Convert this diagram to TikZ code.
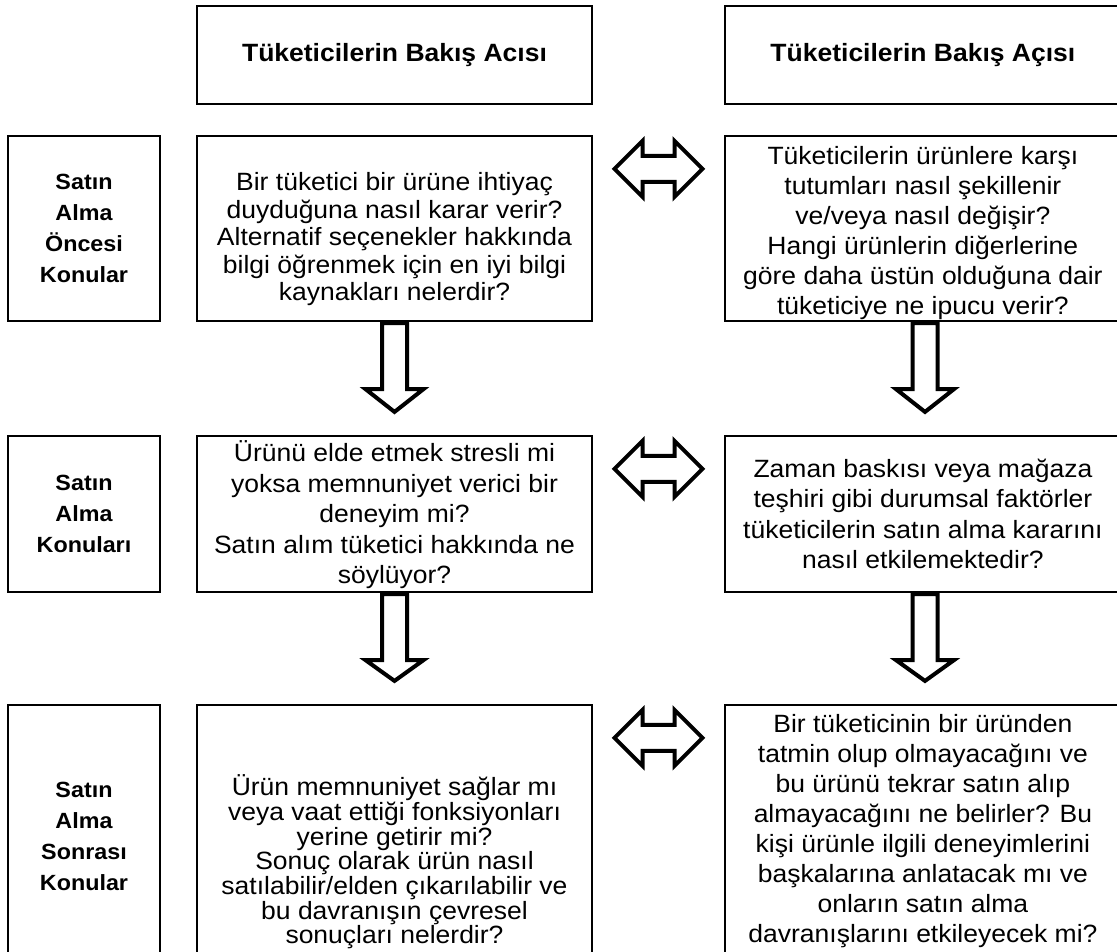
\documentclass[tikz,border=0pt]{standalone}
\usepackage{fontspec}
\setmainfont{Liberation Sans}[FakeStretch=1.06]
\usetikzlibrary{calc}

\tikzset{
  frame/.style={draw=black, line width=2.2pt, inner sep=0pt, fill=none},
  body/.style={align=center, inner sep=0pt, text=black, font=\fontsize{25}{30.5}\selectfont},
  side/.style={align=center, inner sep=0pt, text=black, font=\bfseries\fontsize{22}{31}\selectfont},
  head/.style={align=center, inner sep=0pt, text=black, font=\bfseries\fontsize{25}{30}\selectfont},
  blockarrow/.style={draw=black, line width=4pt, fill=white, line join=miter, miter limit=10},
}

% hollow arrow pointing down from one box to the box below it;
% #3 shifts the arrow sideways from the centre of the boxes
\newcommand\downblock[3]{%
  \draw[blockarrow] ($(#1.south)+(#3-12.5,1)$) -- ++(0,66) -- ++(-16.5,0)
    -- ($(#2.north)+(#3,-23)$) -- ($(#1.south)+(#3+29,67)$) -- ++(-16.5,0)
    -- ($(#1.south)+(#3+12.5,1)$) -- cycle;
}
% hollow two-headed arrow between two boxes of the same row
\newcommand\sideblock[2]{%
  \coordinate (mid#1) at ($(#1.north east)!0.5!(#2.north west)+(0,34)$);
  \draw[blockarrow] ($(mid#1)+(-44,0)$) -- ++(28,-28) -- ++(0,15) -- ++(32,0)
    -- ++(0,-15) -- ($(mid#1)+(44,0)$) -- ++(-28,28) -- ++(0,-15)
    -- ++(-32,0) -- ++(0,15) -- cycle;
}

\begin{document}
\begin{tikzpicture}[x=1pt, y=-1pt]
  \useasboundingbox (0,0) rectangle (1117,951);
  \clip (0,0) rectangle (1117,951);
  \fill[white] (0,0) rectangle (1117,951);

  % column headings (the right column runs past the right edge)
  \node[frame, minimum width=395pt, minimum height=98pt] (hL) at (394.5,55) {};
  \node[frame, minimum width=413pt, minimum height=98pt] (hR) at (931.5,55) {};
  \node[head] (hLt) at (hL.center) {Tüketicilerin Bakış Acısı};
  \node[head] (hRt) at ($(hR.west)+(199,0)$) {Tüketicilerin Bakış Açısı};

  % row 1: before the purchase
  \node[frame, minimum width=152pt, minimum height=185pt] (s1) at (84,228.5) {};
  \node[frame, minimum width=395pt, minimum height=185pt] (b1L) at (394.5,228.5) {};
  \node[frame, minimum width=413pt, minimum height=185pt] (b1R) at (931.5,228.5) {};
  \node[side] (s1t) at (s1.center) {Satın\\Alma\\Öncesi\\Konular};
  \node[body, font=\fontsize{25}{27.5}\selectfont] (t1L) at ($(b1L.center)+(0,11)$)
    {Bir tüketici bir ürüne ihtiyaç\\duyduğuna nasıl karar verir?\\Alternatif seçenekler hakkında\\bilgi öğrenmek için en iyi bilgi\\kaynakları nelerdir?};
  \node[body, font=\fontsize{25}{30}\selectfont] (t1R) at ($(b1R.west)+(199,5)$)
    {Tüketicilerin ürünlere karşı\\tutumları nasıl şekillenir\\ve/veya nasıl değişir?\\Hangi ürünlerin diğerlerine\\göre daha üstün olduğuna dair\\tüketiciye ne ipucu verir?};

  % row 2: the purchase
  \node[frame, minimum width=152pt, minimum height=156pt] (s2) at (84,514) {};
  \node[frame, minimum width=395pt, minimum height=156pt] (b2L) at (394.5,514) {};
  \node[frame, minimum width=413pt, minimum height=156pt] (b2R) at (931.5,514) {};
  \node[side] (s2t) at (s2.center) {Satın\\Alma\\Konuları};
  \node[body] (t2L) at ($(b2L.center)+(0,1)$)
    {Ürünü elde etmek stresli mi\\yoksa memnuniyet verici bir\\deneyim mi?\\Satın alım tüketici hakkında ne\\söylüyor?};
  \node[body] (t2R) at ($(b2R.west)+(199,0)$)
    {Zaman baskısı veya mağaza\\teşhiri gibi durumsal faktörler\\tüketicilerin satın alma kararını\\nasıl etkilemektedir?};

  % row 3: after the purchase (boxes run past the lower edge)
  \node[frame, minimum width=152pt, minimum height=262pt] (s3) at (84,836) {};
  \node[frame, minimum width=395pt, minimum height=262pt] (b3L) at (394.5,836) {};
  \node[frame, minimum width=413pt, minimum height=262pt] (b3R) at (931.5,836) {};
  \node[side] (s3t) at (s3.center) {Satın\\Alma\\Sonrası\\Konular};
  \node[body, font=\fontsize{25}{24.7}\selectfont] (t3L) at ($(b3L.center)+(0,26)$)
    {Ürün memnuniyet sağlar mı\\veya vaat ettiği fonksiyonları\\yerine getirir mi?\\Sonuç olarak ürün nasıl\\satılabilir/elden çıkarılabilir ve\\bu davranışın çevresel\\sonuçları nelerdir?};
  \node[body, font=\fontsize{25}{30}\selectfont] (t3R) at ($(b3R.west)+(199,-5)$)
    {Bir tüketicinin bir üründen\\tatmin olup olmayacağını ve\\bu ürünü tekrar satın alıp\\almayacağını ne belirler? Bu\\kişi ürünle ilgili deneyimlerini\\başkalarına anlatacak mı ve\\onların satın alma\\davranışlarını etkileyecek mi?};

  % arrows between the boxes
  \sideblock{b1L}{b1R}
  \sideblock{b2L}{b2R}
  \sideblock{b3L}{b3R}
  \downblock{b1L}{b2L}{0}
  \downblock{b1R}{b2R}{-6.5}
  \downblock{b2L}{b3L}{0}
  \downblock{b2R}{b3R}{-6.5}
\end{tikzpicture}
\end{document}
